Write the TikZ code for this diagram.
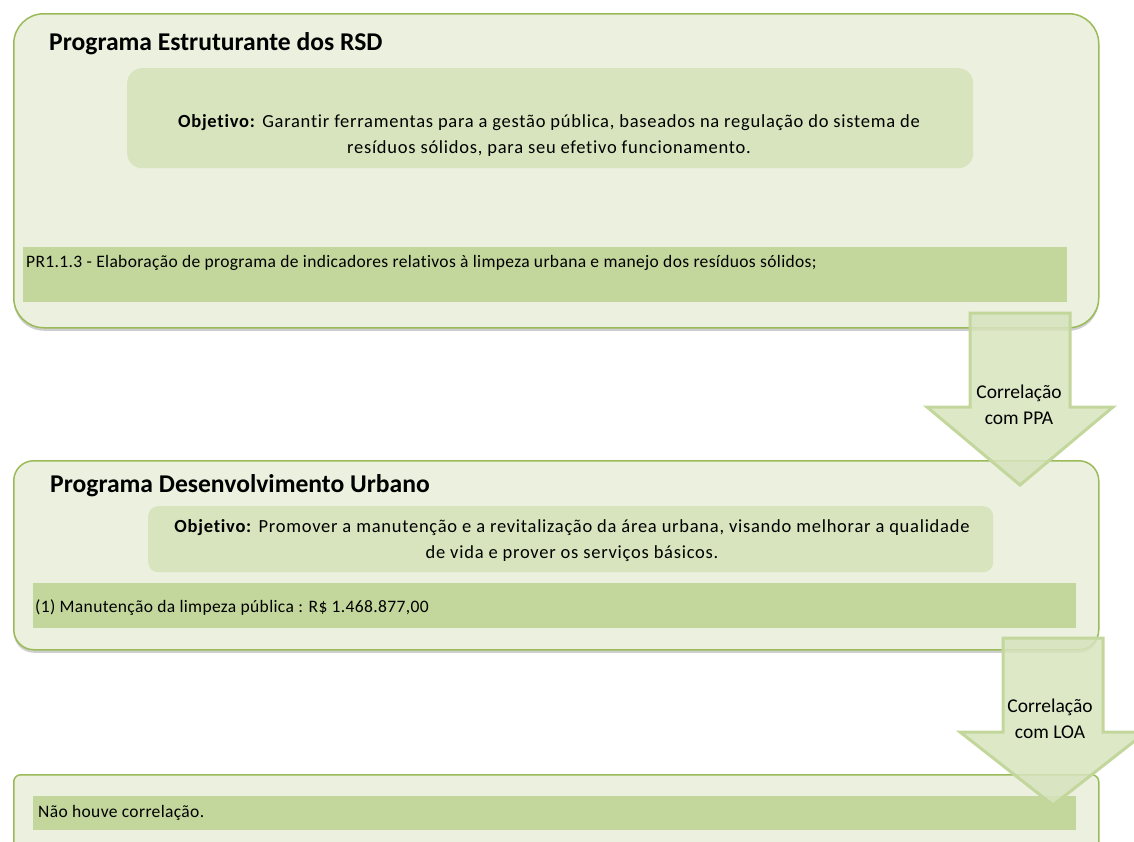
\documentclass[tikz,border=0pt]{standalone}
\usepackage{fontspec}
\setmainfont{Carlito}[Ligatures=NoCommon]
\usetikzlibrary{positioning,shadows}

\definecolor{fundoPrograma}{HTML}{EBF0DF}
\definecolor{bordaPrograma}{HTML}{9BBB59}
\definecolor{fundoObjetivo}{HTML}{D7E4BD}
\definecolor{fundoFaixa}{HTML}{C3D69B}

\begin{document}
\begin{tikzpicture}[x=1pt,y=-1pt,
	programa/.style={draw=bordaPrograma,fill=fundoPrograma,line width=1.5pt,anchor=north west,inner sep=0pt,
		drop shadow={shadow xshift=0pt,shadow yshift=-3pt,opacity=0.35,fill=black!55}},
	objetivo/.style={fill=fundoObjetivo,anchor=north west,inner sep=0pt},
	faixa/.style={fill=fundoFaixa,anchor=north west,inner sep=0pt},
	titulo/.style={anchor=base west,inner sep=0pt,font=\fontsize{25.6}{30}\selectfont\bfseries},
	texto/.style={inner sep=0pt,align=center,font=\fontsize{18.5}{26}\selectfont\addfontfeature{LetterSpace=4}},
	textofaixa/.style={anchor=base west,inner sep=0pt,font=\fontsize{17.5}{20}\selectfont\addfontfeature{LetterSpace=2}},
	seta/.style={fill=fundoObjetivo,fill opacity=0.85,draw=fundoFaixa,line width=3pt,line join=miter},
	textoseta/.style={inner sep=0pt,align=center,font=\fontsize{19.5}{26}\selectfont}]
	\useasboundingbox (0,0) rectangle (1134,841);
	\clip (0,0) rectangle (1134,841);

	% Programa Estruturante
	\node[programa,rounded corners=30pt,minimum width=1085pt,minimum height=314pt] (prog1) at (13,13) {};
	\node[titulo] (titulo1) at (49,50) {Programa Estruturante dos RSD};
	\node[objetivo,rounded corners=15pt,minimum width=846pt,minimum height=100pt] (obj1) at (127,68) {};
	\node[texto] (objtexto1) at (549,135) {\textbf{Objetivo:} Garantir ferramentas para a gestão pública, baseados na regulação do sistema de\\resíduos sólidos, para seu efetivo funcionamento.};
	\node[faixa,minimum width=1044pt,minimum height=55pt] (faixa1) at (23,247) {};
	\node[textofaixa] (acao1) at (26,267) {PR1.1.3 - Elaboração de programa de indicadores relativos à limpeza urbana e manejo dos resíduos sólidos;};

	% Programa Desenvolvimento Urbano
	\node[programa,rounded corners=20pt,minimum width=1085pt,minimum height=189pt] (prog2) at (13,460) {};
	\node[titulo] (titulo2) at (50,492) {Programa Desenvolvimento Urbano};
	\node[objetivo,rounded corners=10pt,minimum width=845pt,minimum height=66pt] (obj2) at (148,506) {};
	\node[texto] (objtexto2) at (572,541) {\textbf{Objetivo:} Promover a manutenção e a revitalização da área urbana, visando melhorar a qualidade\\de vida e prover os serviços básicos.};
	\node[faixa,minimum width=1043pt,minimum height=45pt] (faixa2) at (33,583) {};
	\node[textofaixa] (acao2) at (35,612) {(1) Manutenção da limpeza pública : R\$ 1.468.877,00};

	% sem correlacao
	\node[programa,rounded corners=7pt,minimum width=1085pt,minimum height=100pt] (prog3) at (13,774) {};
	\node[faixa,minimum width=1043pt,minimum height=34pt] (faixa3) at (33,796) {};
	\node[textofaixa] (acao3) at (38,817) {Não houve correlação.};

	% setas
	\draw[seta] (970,313) -- (1070,313) -- (1070,407) -- (1113,407) -- (1020,485) -- (927,407) -- (970,407) -- cycle;
	\node[textoseta] (ppa) at (1019,405) {Correlação\\com PPA};
	\draw[seta] (1003,638) -- (1103,638) -- (1103,732) -- (1146,732) -- (1053,805) -- (960,732) -- (1003,732) -- cycle;
	\node[textoseta] (loa) at (1050,719) {Correlação\\com LOA};
\end{tikzpicture}
\end{document}
